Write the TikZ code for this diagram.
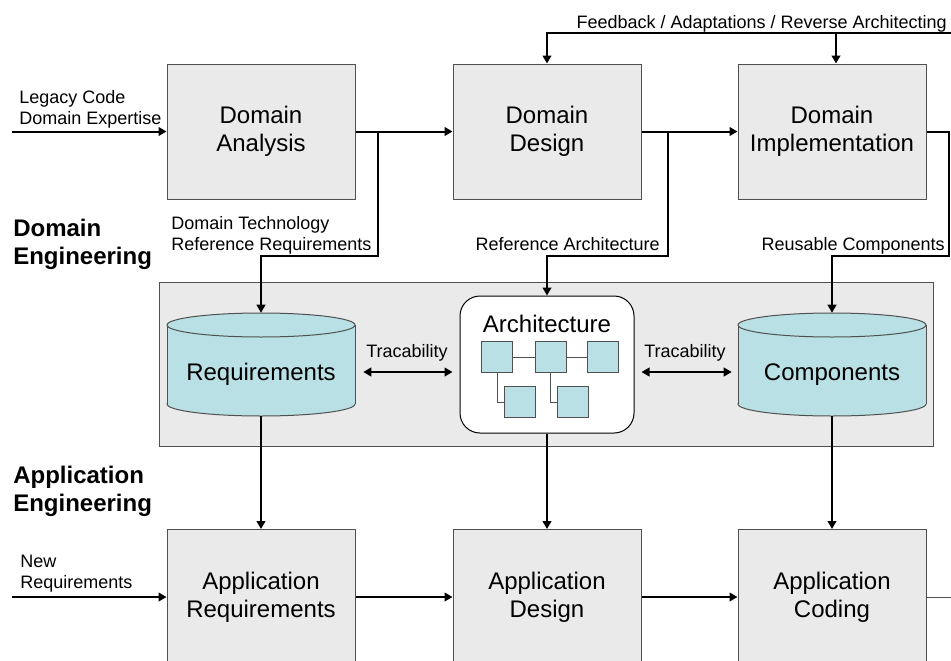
\documentclass[tikz,border=0pt]{standalone}
\usepackage{fontspec}
\setmainfont{Liberation Sans}
\usetikzlibrary{arrows.meta,calc}
\definecolor{boxgray}{RGB}{234,234,234}
\definecolor{cylfill}{RGB}{185,224,228}
\definecolor{edgegray}{RGB}{80,80,80}
\newcommand\drawcyl[1]{%
  \filldraw[cylst] (#1,404) ellipse [x radius=94, y radius=12];
  \fill[cylfill] (#1-94,325) rectangle (#1+94,404);
  \draw[cylst] (#1-94,325) -- (#1-94,404) (#1+94,325) -- (#1+94,404);
  \filldraw[cylst] (#1,325) ellipse [x radius=94, y radius=12];
}
\begin{document}
\begin{tikzpicture}[x=0.75pt,y=-0.75pt,
  proc/.style={draw=edgegray, line width=0.75pt, fill=boxgray, minimum width=141pt,
    minimum height=101.25pt, inner sep=0pt, align=center, font=\fontsize{18}{21}\selectfont},
  cylst/.style={draw=edgegray, line width=0.75pt, fill=cylfill},
  cylnode/.style={minimum width=141pt, minimum height=77.25pt, inner sep=0pt,
    text height=23.25pt, text depth=0pt, font=\fontsize{18}{21}\selectfont},
  conn/.style={line width=1.5pt, -{Triangle[length=6pt,width=6.5pt]}},
  dbl/.style={line width=1.5pt, {Triangle[length=6pt,width=6.5pt]}-{Triangle[length=6pt,width=6.5pt]}},
  plain/.style={line width=1.5pt},
  thinline/.style={draw=edgegray, line width=0.75pt},
  sq/.style={draw=edgegray, line width=0.75pt, fill=cylfill, minimum size=23.25pt, inner sep=0pt},
  small/.style={inner sep=0pt, font=\fontsize{13.5}{15.75}\selectfont},
  big/.style={inner sep=0pt, align=left, font=\fontsize{18}{21}\selectfont\bfseries},
]
\path[use as bounding box] (0,0) rectangle (951,661);

% band
\node[draw=edgegray, line width=0.75pt, fill=boxgray, minimum width=580.5pt,
  minimum height=123pt, inner sep=0pt] (band) at (546,364) {};

% cylinders
\drawcyl{261}
\drawcyl{832}
\node[cylnode] (req) at (261,364.5) {Requirements};
\node[cylnode] (comp) at (832,364.5) {Components};

% architecture
\node[draw=black, line width=0.75pt, fill=white, rounded corners=15pt,
  minimum width=130.5pt, minimum height=102.75pt, inner sep=0pt] (arch) at (547,364.5) {};
\node[anchor=base, inner sep=0pt, font=\fontsize{18}{21}\selectfont] (archt) at (547,332) {Architecture};
\node[sq] (s1) at (497,357) {};
\node[sq] (s2) at (550.5,357) {};
\node[sq] (s3) at (602.5,357) {};
\node[sq] (s4) at (519.5,402) {};
\node[sq] (s5) at (572.5,402) {};
\draw[thinline] (s1) -- (s2);
\draw[thinline] (s2) -- (s3);
\draw[thinline] (s1.south) |- (s4.west);
\draw[thinline] (s2.south) |- (s5.west);

% domain boxes
\node[proc] (da) at (261,131.5) {Domain\\Analysis};
\node[proc] (dd) at (547,131.5) {Domain\\Design};
\node[proc] (di) at (832,131.5) {Domain\\Implementation};

% application boxes
\node[proc] (ar) at (261,597) {Application\\Requirements};
\node[proc] (ad) at (547,597) {Application\\Design};
\node[proc] (ac) at (832,597) {Application\\Coding};

% coordinates
\coordinate (in1) at (12,131.5);
\coordinate (in2) at (12,597);
\coordinate (j1) at (378,131.5);
\coordinate (k1) at (378,256);
\coordinate (j2) at (668,131.5);
\coordinate (k2) at (668,256);
\coordinate (j3) at (949,256);
\coordinate (fb) at (951,33);
\coordinate (dit) at ($(di.north)+(4,0)$);
\coordinate (out) at (951,597);

% connectors
\draw[conn] (in1) -- (da.west);
\draw[conn] (da.east) -- (dd.west);
\draw[conn] (dd.east) -- (di.west);
\draw[conn] (j1) -- (k1) -| (req.north);
\draw[conn] (j2) -- (k2) -| (arch.north);
\draw[conn] (di.east) -| (j3) -| (comp.north);
\draw[conn] (fb) -| (dd.north);
\draw[conn] (dit |- fb) -- (dit);
\draw[dbl] ($(req.east)+(8,7.5)$) -- ($(arch.west)+(-7,7.5)$);
\draw[dbl] ($(arch.east)+(7,7.5)$) -- ($(comp.west)+(-6,7.5)$);
\draw[conn] (req.south) -- (ar.north);
\draw[conn] (arch.south) -- (ad.north);
\draw[conn] (comp.south) -- (ac.north);
\draw[conn] (in2) -- (ar.west);
\draw[conn] (ar.east) -- (ad.west);
\draw[conn] (ad.east) -- (ac.west);
\draw[thinline] (ac.east) -- (out);

% labels
\node[small, anchor=north west, align=left] (l1) at (19,90) {Legacy Code\\Domain Expertise};
\node[small, anchor=north east] (l2) at (947,15) {Feedback / Adaptations / Reverse Architecting};
\node[small, anchor=north west, align=left] (l3) at (171,216) {Domain Technology\\Reference Requirements};
\node[small, anchor=north east] (l4) at (660,237) {Reference Architecture};
\node[small, anchor=north east] (l5) at (945,237) {Reusable Components};
\node[big, anchor=north west] (l6) at (13,219) {Domain\\Engineering};
\node[big, anchor=north west] (l7) at (13,466) {Application\\Engineering};
\node[small, anchor=north west, align=left] (l8) at (20,555) {New\\Requirements};
\node[small, anchor=base] (t1) at (407,357) {Tracability};
\node[small, anchor=base] (t2) at (685,357) {Tracability};
\end{tikzpicture}
\end{document}
